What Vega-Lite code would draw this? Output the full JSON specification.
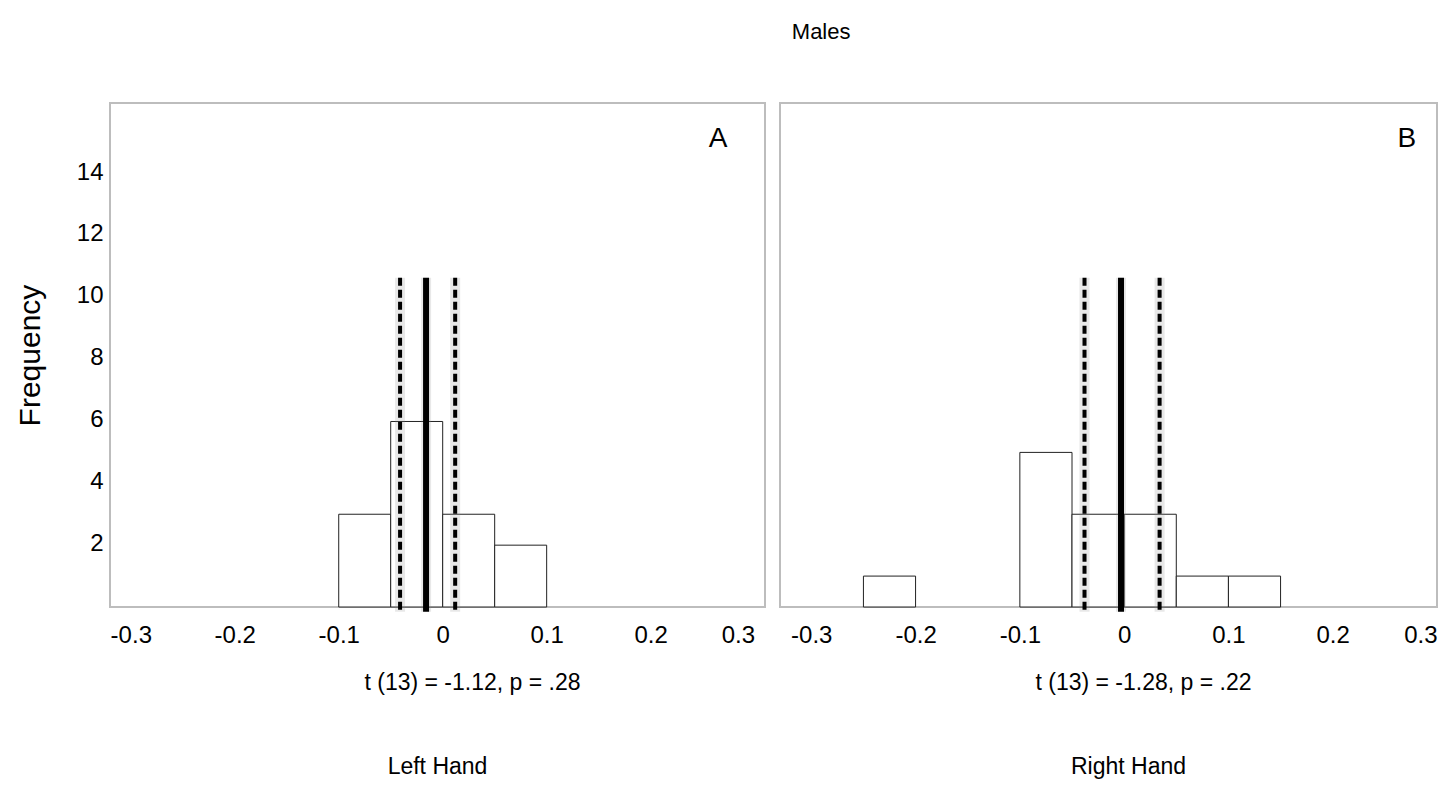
{
  "$schema": "https://vega.github.io/schema/vega-lite/v6.json",
  "background": "white",
  "padding": {"left": 14, "top": 21, "right": 5, "bottom": 5},
  "config": {
    "font": "Liberation Sans",
    "view": {"stroke": "#bdbdbd", "strokeWidth": 2},
    "axis": {
      "grid": false, "ticks": false, "tickSize": 0, "domain": false,
      "labelColor": "black", "titleColor": "black",
      "labelFont": "Liberation Sans", "titleFont": "Liberation Sans",
      "labelFontSize": 24, "titleFontSize": 23, "titleFontWeight": "normal"
    },
    "title": {"font": "Liberation Sans", "fontWeight": "normal", "color": "black"},
    "concat": {"spacing": 15}
  },
  "bounds": "flush",
  "title": {"text": "Males", "fontSize": 22, "anchor": "middle", "dx": 95, "offset": 58},
  "datasets": {
    "histA": [
      {"bin_start": -0.1, "bin_end": -0.05, "count": 3},
      {"bin_start": -0.05, "bin_end": 0.0, "count": 6},
      {"bin_start": 0.0, "bin_end": 0.05, "count": 3},
      {"bin_start": 0.05, "bin_end": 0.1, "count": 2}
    ],
    "histB": [
      {"bin_start": -0.25, "bin_end": -0.2, "count": 1},
      {"bin_start": -0.1, "bin_end": -0.05, "count": 5},
      {"bin_start": -0.05, "bin_end": 0.0, "count": 3},
      {"bin_start": 0.0, "bin_end": 0.05, "count": 3},
      {"bin_start": 0.05, "bin_end": 0.1, "count": 1},
      {"bin_start": 0.1, "bin_end": 0.15, "count": 1}
    ],
    "ciA": [
      {"stat": "lower", "value": -0.041},
      {"stat": "mean", "value": -0.016},
      {"stat": "upper", "value": 0.012}
    ],
    "ciB": [
      {"stat": "lower", "value": -0.038},
      {"stat": "mean", "value": -0.003},
      {"stat": "upper", "value": 0.034}
    ]
  },
  "hconcat": [
    {
      "width": 655,
      "height": 504,
      "title": {"text": "Left Hand", "orient": "bottom", "fontSize": 23, "offset": 62},
      "layer": [
        {
          "data": {"name": "histA"},
          "mark": {"type": "rect", "fill": "white", "stroke": "#222222", "strokeWidth": 1},
          "encoding": {
            "x": {"field": "bin_start", "type": "quantitative",
              "scale": {"domain": [-0.32, 0.31], "nice": false, "zero": false},
              "axis": {"values": [-0.3, -0.2, -0.1, 0, 0.1, 0.2, 0.3],
                "labelExpr": "datum.value < 0 ? '-' + format(-datum.value, '.1f') : (datum.value == 0 ? '0' : format(datum.value, '.1f'))",
                "labelPadding": 16, "labelFlush": 12,
                "title": "t (13) = -1.12, p = .28", "titlePadding": 24, "titleX": 362}},
            "x2": {"field": "bin_end"},
            "y": {"field": "count", "type": "quantitative",
              "scale": {"domain": [0, 16.3], "nice": false},
              "axis": {"values": [2, 4, 6, 8, 10, 12, 14], "labelPadding": 7, "labelOffset": -2,
                "title": "Frequency", "titleFontSize": 30, "titlePadding": 31}},
            "y2": {"datum": 0}
          }
        },
        {
          "data": {"name": "ciA"},
          "mark": {"type": "rule", "color": "#8a8a8a", "opacity": 0.2, "strokeWidth": 10},
          "encoding": {
            "x": {"field": "value", "type": "quantitative", "scale": {"domain": [-0.32, 0.31], "nice": false, "zero": false}},
            "y": {"datum": 10.65, "type": "quantitative"},
            "y2": {"datum": -0.15}
          }
        },
        {
          "data": {"name": "ciA"},
          "transform": [{"filter": "datum.stat != 'mean'"}],
          "mark": {"type": "rule", "color": "black", "strokeWidth": 4, "strokeDash": [8, 4]},
          "encoding": {
            "x": {"field": "value", "type": "quantitative", "scale": {"domain": [-0.32, 0.31], "nice": false, "zero": false}},
            "y": {"datum": 10.65, "type": "quantitative"},
            "y2": {"datum": -0.15}
          }
        },
        {
          "data": {"name": "ciA"},
          "transform": [{"filter": "datum.stat == 'mean'"}],
          "mark": {"type": "rule", "color": "black", "strokeWidth": 6},
          "encoding": {
            "x": {"field": "value", "type": "quantitative", "scale": {"domain": [-0.32, 0.31], "nice": false, "zero": false}},
            "y": {"datum": 10.65, "type": "quantitative"},
            "y2": {"datum": -0.15}
          }
        },
        {
          "data": {"values": [{"panel": "A"}]},
          "mark": {"type": "text", "fontSize": 28, "align": "center", "baseline": "middle", "color": "black", "font": "Liberation Sans"},
          "encoding": {
            "x": {"datum": 0.265, "type": "quantitative"},
            "y": {"datum": 15.15, "type": "quantitative"},
            "text": {"field": "panel"}
          }
        }
      ]
    },
    {
      "width": 657,
      "height": 504,
      "title": {"text": "Right Hand", "orient": "bottom", "fontSize": 23, "offset": 62, "dx": 20},
      "layer": [
        {
          "data": {"name": "histB"},
          "mark": {"type": "rect", "fill": "white", "stroke": "#222222", "strokeWidth": 1},
          "encoding": {
            "x": {"field": "bin_start", "type": "quantitative",
              "scale": {"domain": [-0.33, 0.3], "nice": false, "zero": false},
              "axis": {"values": [-0.3, -0.2, -0.1, 0, 0.1, 0.2, 0.3],
                "labelExpr": "datum.value < 0 ? '-' + format(-datum.value, '.1f') : (datum.value == 0 ? '0' : format(datum.value, '.1f'))",
                "labelPadding": 16, "labelFlush": 12,
                "title": "t (13) = -1.28, p = .22", "titlePadding": 24, "titleX": 363}},
            "x2": {"field": "bin_end"},
            "y": {"field": "count", "type": "quantitative",
              "scale": {"domain": [0, 16.3], "nice": false},
              "axis": null},
            "y2": {"datum": 0}
          }
        },
        {
          "data": {"name": "ciB"},
          "mark": {"type": "rule", "color": "#8a8a8a", "opacity": 0.2, "strokeWidth": 10},
          "encoding": {
            "x": {"field": "value", "type": "quantitative", "scale": {"domain": [-0.33, 0.3], "nice": false, "zero": false}},
            "y": {"datum": 10.65, "type": "quantitative"},
            "y2": {"datum": -0.15}
          }
        },
        {
          "data": {"name": "ciB"},
          "transform": [{"filter": "datum.stat != 'mean'"}],
          "mark": {"type": "rule", "color": "black", "strokeWidth": 4, "strokeDash": [8, 4]},
          "encoding": {
            "x": {"field": "value", "type": "quantitative", "scale": {"domain": [-0.33, 0.3], "nice": false, "zero": false}},
            "y": {"datum": 10.65, "type": "quantitative"},
            "y2": {"datum": -0.15}
          }
        },
        {
          "data": {"name": "ciB"},
          "transform": [{"filter": "datum.stat == 'mean'"}],
          "mark": {"type": "rule", "color": "black", "strokeWidth": 6},
          "encoding": {
            "x": {"field": "value", "type": "quantitative", "scale": {"domain": [-0.33, 0.3], "nice": false, "zero": false}},
            "y": {"datum": 10.65, "type": "quantitative"},
            "y2": {"datum": -0.15}
          }
        },
        {
          "data": {"values": [{"panel": "B"}]},
          "mark": {"type": "text", "fontSize": 28, "align": "center", "baseline": "middle", "color": "black", "font": "Liberation Sans"},
          "encoding": {
            "x": {"datum": 0.271, "type": "quantitative"},
            "y": {"datum": 15.15, "type": "quantitative"},
            "text": {"field": "panel"}
          }
        }
      ]
    }
  ]
}
